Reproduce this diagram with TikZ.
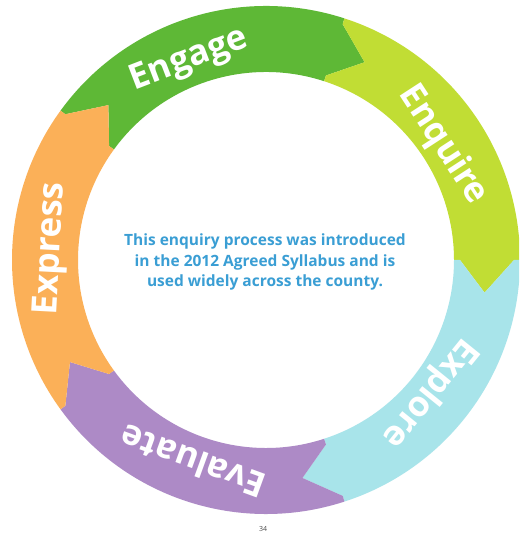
\documentclass[tikz,border=0pt]{standalone}
\usepackage{fontspec}
\setmainfont{Open Sans}
\definecolor{cEngage}{RGB}{94,184,54}
\definecolor{cEnquire}{RGB}{193,221,52}
\definecolor{cExplore}{RGB}{168,228,234}
\definecolor{cEvaluate}{RGB}{173,138,198}
\definecolor{cExpress}{RGB}{251,176,88}
\definecolor{cText}{RGB}{58,158,212}
\newcommand\ringseg[2]{%
  \fill[#2] (#1:254pt) arc[start angle=#1, end angle={#1-72}, radius=254pt]
    -- ({#1-72}:248pt) -- ({#1-80.5}:221pt) -- ({#1-72}:194pt) -- ({#1-72}:188pt)
    arc[start angle={#1-72}, end angle=#1, radius=188pt]
    -- (#1:194pt) -- ({#1-8.5}:221pt) -- (#1:248pt) -- cycle;}
\begin{document}
\begin{tikzpicture}[x=1pt,y=1pt,
  seglabel/.style={text=white,font=\bfseries\fontsize{35}{35}\selectfont,inner sep=0pt},
  centertext/.style={text=cText,font=\bfseries\fontsize{15.5}{20.5}\selectfont,align=center,inner sep=0pt},
  pagenum/.style={text=black!70,font=\fontsize{7}{7}\selectfont,inner sep=0pt}]
\useasboundingbox (0,0) rectangle (519,534);
\clip (0,0) rectangle (519,534);
\fill[white] (0,0) rectangle (519,534);
\begin{scope}[shift={(266pt,274pt)}]
  \ringseg{144}{cEngage}
  \ringseg{72}{cEnquire}
  \ringseg{0}{cExplore}
  \ringseg{-72}{cEvaluate}
  \ringseg{-144}{cExpress}
  \node[seglabel, rotate=21] (engage) at (111:214pt) {Engage};
  \node[seglabel, rotate=-57] (enquire) at (33:211pt) {Enquire};
  \node[seglabel, rotate=-129] (explore) at (-39:211pt) {Explore};
  \node[seglabel, rotate=-200] (evaluate) at (-110:215pt) {Evaluate};
  \node[seglabel, rotate=87] (express) at (177:215pt) {Express};
  \node[centertext] (info) at (-1pt,-2pt) {This enquiry process was introduced\\in the 2012 Agreed Syllabus and is\\used widely across the county.};
\end{scope}
\node[pagenum, anchor=north] (page) at (263,7.5) {34};
\end{tikzpicture}
\end{document}
